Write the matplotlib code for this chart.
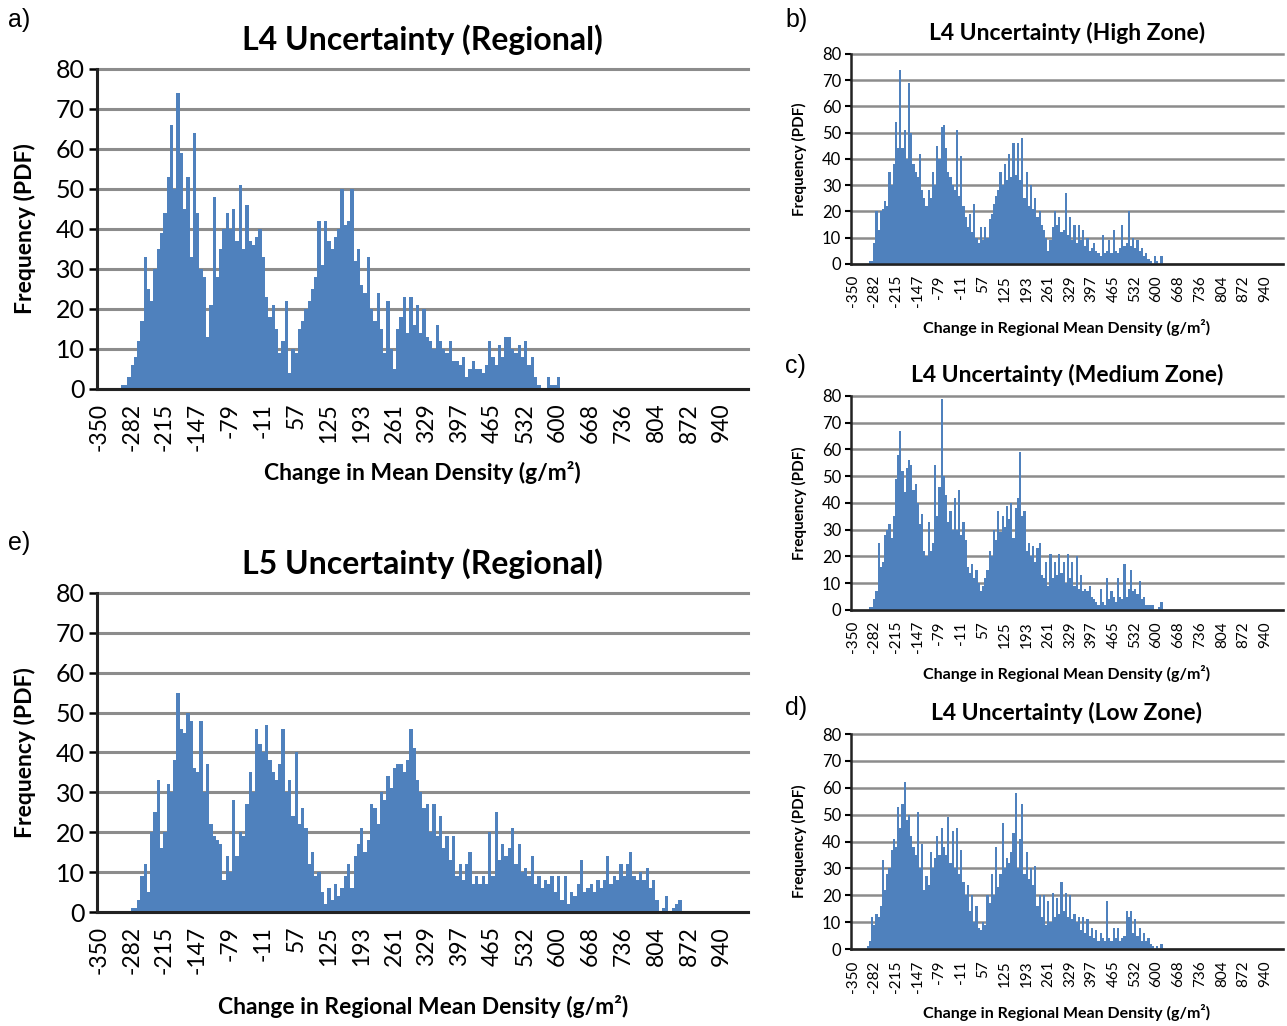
import numpy as np
import matplotlib
matplotlib.use("Agg")
from matplotlib import pyplot as plt

plt.rcParams['font.family'] = ['Lato', 'DejaVu Sans']

# histogram bins (g/m2): first bin starts at BIN_START, all bins BIN_W wide
BIN_START = -306
BIN_W = 6.8

xtick_vals = [-350, -282, -215, -147, -79, -11, 57, 125, 193, 261, 329,
              397, 465, 532, 600, 668, 736, 804, 872, 940]
ytick_vals = [0, 10, 20, 30, 40, 50, 60, 70, 80]

# a) L4 regional
reg_l4 = [1, 1, 3, 6, 8, 12, 17, 33, 25, 22, 30, 35, 39, 44, 53, 66, 50, 74, 59, 45,
          53, 33, 64, 44, 30, 28, 13, 21, 48, 28, 35, 40, 44, 40, 45, 37, 51, 35, 46, 37,
          36, 38, 40, 33, 23, 18, 21, 15, 9, 12, 22, 4, 10, 9, 15, 17, 20, 22, 25, 28,
          42, 31, 42, 37, 35, 38, 40, 50, 41, 42, 50, 32, 35, 26, 24, 33, 20, 17, 24, 15,
          9, 22, 10, 5, 15, 18, 23, 14, 23, 16, 21, 14, 20, 13, 12, 10, 16, 12, 10, 9,
          12, 7, 7, 6, 8, 3, 5, 7, 5, 5, 4, 6, 12, 8, 6, 11, 8, 13, 13, 10,
          9, 11, 8, 12, 6, 8, 3, 1, 0, 0, 3, 1, 1, 3]

# b) L4 high zone
high_l4 = [0, 1, 1, 8, 20, 13, 20, 21, 24, 22, 35, 30, 38, 54, 44, 74, 44, 51, 40, 69,
           50, 38, 35, 33, 42, 28, 25, 22, 28, 25, 35, 30, 45, 40, 52, 53, 44, 35, 33, 30,
           28, 51, 26, 41, 22, 18, 14, 19, 12, 23, 10, 8, 14, 9, 14, 10, 17, 19, 23, 26,
           28, 35, 30, 38, 32, 42, 33, 46, 34, 46, 32, 48, 25, 35, 22, 30, 21, 25, 18, 20,
           15, 13, 10, 5, 9, 14, 20, 15, 18, 12, 13, 27, 11, 18, 9, 15, 8, 15, 9, 13,
           7, 10, 5, 6, 8, 5, 4, 3, 11, 4, 5, 9, 4, 13, 5, 4, 6, 15, 7, 8,
           20, 7, 10, 6, 9, 5, 6, 3, 4, 2, 1, 0, 3, 1, 0, 3]

# c) L4 medium zone
med_l4 = [0, 1, 1, 4, 7, 25, 16, 18, 28, 30, 32, 27, 35, 49, 58, 67, 52, 44, 53, 56,
          54, 45, 47, 40, 32, 36, 22, 20, 33, 22, 25, 54, 35, 46, 79, 50, 43, 33, 37, 30,
          42, 30, 45, 28, 33, 26, 16, 14, 17, 12, 15, 10, 7, 9, 12, 15, 22, 20, 30, 26,
          37, 29, 35, 31, 39, 34, 40, 27, 38, 42, 59, 35, 37, 22, 25, 20, 24, 18, 23, 25,
          13, 12, 18, 9, 21, 12, 18, 13, 21, 14, 18, 10, 21, 12, 18, 9, 20, 8, 13, 7,
          8, 7, 9, 5, 4, 3, 2, 8, 3, 2, 12, 4, 7, 5, 3, 12, 5, 4, 17, 5,
          8, 15, 7, 8, 6, 11, 4, 5, 2, 2, 2, 2, 0, 0, 1, 3]

# d) L4 low zone
low_l4 = [1, 3, 12, 9, 13, 12, 16, 33, 22, 28, 30, 37, 41, 38, 53, 45, 54, 62, 48, 50,
          42, 38, 35, 51, 30, 39, 22, 27, 24, 36, 30, 34, 42, 35, 45, 38, 35, 49, 32, 44,
          30, 45, 28, 37, 25, 20, 24, 14, 20, 10, 16, 8, 7, 10, 9, 20, 17, 28, 20, 38,
          23, 28, 47, 30, 34, 32, 36, 43, 58, 30, 41, 54, 28, 36, 26, 30, 24, 31, 16, 20,
          12, 20, 9, 18, 10, 21, 12, 19, 13, 25, 14, 21, 12, 20, 11, 13, 10, 12, 7, 12,
          6, 11, 5, 8, 4, 7, 3, 6, 4, 3, 18, 4, 3, 8, 4, 8, 3, 4, 5, 14,
          12, 14, 6, 11, 5, 8, 3, 6, 3, 4, 2, 1, 0, 1, 0, 2]

# e) L5 regional
reg_l5 = [0, 0, 0, 1, 1, 3, 9, 12, 5, 20, 25, 33, 16, 20, 32, 30, 38, 55, 46, 45,
          50, 48, 36, 35, 48, 30, 37, 22, 19, 18, 17, 8, 14, 10, 28, 14, 20, 19, 27, 35,
          30, 46, 42, 40, 47, 38, 35, 33, 37, 46, 30, 33, 24, 40, 22, 26, 21, 12, 15, 9,
          10, 5, 2, 6, 3, 7, 4, 6, 9, 12, 6, 14, 17, 21, 15, 18, 27, 26, 22, 30,
          28, 34, 31, 36, 37, 37, 35, 38, 46, 41, 33, 30, 26, 27, 20, 27, 19, 24, 16, 19,
          13, 19, 9, 12, 8, 12, 15, 7, 9, 7, 9, 7, 20, 9, 25, 13, 17, 14, 16, 21,
          12, 17, 10, 11, 9, 14, 7, 9, 6, 8, 7, 9, 5, 9, 3, 9, 2, 5, 4, 7,
          13, 5, 6, 7, 5, 8, 6, 8, 14, 7, 9, 8, 12, 9, 12, 15, 9, 8, 10, 8,
          11, 6, 8, 3, 0, 1, 4, 0, 1, 2, 3]

BAR_COLOR = '#4f81bd'
GRID_COLOR = '#8c8c8c'


def draw_panel(rect, vals, title, xlabel, big, xlabelpad=8):
    ax = fig.add_axes(rect)
    centers = BIN_START + BIN_W * (np.arange(len(vals)) + 0.5)
    ax.bar(centers, vals, width=BIN_W, color=BAR_COLOR, linewidth=0, zorder=2)
    ax.set_xlim(-355, 995)
    ax.set_ylim(0, 80)
    ax.set_yticks(ytick_vals)
    ax.set_xticks(xtick_vals)
    ax.set_xticklabels([str(v) for v in xtick_vals], rotation=90)
    ax.yaxis.grid(True, color=GRID_COLOR, lw=2.2 if big else 1.8, zorder=0, clip_on=False)
    ax.set_axisbelow(True)
    for s in ['top', 'right']:
        ax.spines[s].set_visible(False)
    for s in ['left', 'bottom']:
        ax.spines[s].set_color('#222222')
        ax.spines[s].set_linewidth(2.2 if big else 1.8)
        ax.spines[s].set_zorder(3)
    if big:
        ax.tick_params(axis='y', labelsize=18, length=6, width=1.8, pad=3)
        ax.tick_params(axis='x', labelsize=16.5, length=0, pad=10)
        ax.set_title(title, fontsize=23, fontweight='bold', pad=14)
        ax.set_xlabel(xlabel, fontsize=16.5, fontweight='bold', labelpad=xlabelpad)
        ax.set_ylabel('Frequency (PDF)', fontsize=16.5, fontweight='bold', labelpad=14)
    else:
        ax.tick_params(axis='y', labelsize=12, length=4, width=1.5, pad=3)
        ax.tick_params(axis='x', labelsize=11, length=0, pad=8)
        ax.set_title(title, fontsize=16.5, fontweight='bold', pad=10)
        ax.set_xlabel(xlabel, fontsize=11.5, fontweight='bold', labelpad=xlabelpad)
        ax.set_ylabel('Frequency (PDF)', fontsize=11, fontweight='bold', labelpad=11)
    return ax


fig = plt.figure(figsize=(12.87, 10.26), dpi=100)

draw_panel([0.0754, 0.6209, 0.506, 0.3119], reg_l4,
           'L4 Uncertainty (Regional)', 'Change in Mean Density (g/m²)', True, 7.5)
draw_panel([0.6612, 0.7427, 0.3357, 0.2047], high_l4,
           'L4 Uncertainty (High Zone)', 'Change in Regional Mean Density (g/m²)', False)
draw_panel([0.6612, 0.4055, 0.3357, 0.2086], med_l4,
           'L4 Uncertainty (Medium Zone)', 'Change in Regional Mean Density (g/m²)', False)
draw_panel([0.6612, 0.0750, 0.3357, 0.2096], low_l4,
           'L4 Uncertainty (Low Zone)', 'Change in Regional Mean Density (g/m²)', False)
draw_panel([0.0754, 0.1111, 0.506, 0.311], reg_l5,
           'L5 Uncertainty (Regional)', 'Change in Regional Mean Density (g/m²)', True, 15)

letters = [('a)', 0.006, 0.992), ('b)', 0.610, 0.992), ('c)', 0.610, 0.655),
           ('d)', 0.610, 0.322), ('e)', 0.006, 0.482)]
for txt, x, y in letters:
    fig.text(x, y, txt, fontsize=18, va='top', family=['Liberation Sans', 'DejaVu Sans'])

fig.savefig('out.png', dpi=100)
